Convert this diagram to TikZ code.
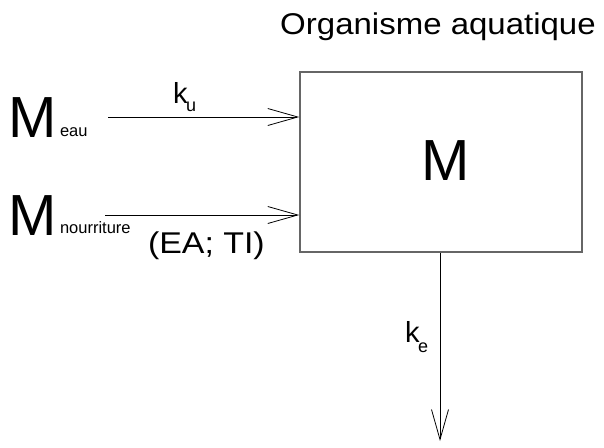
\documentclass[tikz,border=0pt]{standalone}
\usepackage{fontspec}
\usepackage{graphicx}
\setmainfont{Liberation Sans}
\usetikzlibrary{arrows.meta}
\tikzset{
  lbl/.style={inner sep=0pt, outer sep=0pt, font=\fontsize{30}{30}\selectfont},
  bigm/.style={inner sep=0pt, outer sep=0pt, anchor=base west, font=\fontsize{58}{58}\selectfont},
  subs/.style={inner sep=0pt, outer sep=0pt, anchor=base west, font=\fontsize{16.5}{16.5}\selectfont},
  kk/.style={inner sep=0pt, outer sep=0pt, anchor=base west, font=\fontsize{29}{29}\selectfont},
  ksub/.style={inner sep=0pt, outer sep=0pt, anchor=base west, font=\fontsize{18}{18}\selectfont},
  flow/.style={draw=black, line width=0.8pt, -{Straight Barb[length=30pt,width=17pt,line width=0.8pt]}},
  boxst/.style={draw=black!60, line width=1.5pt, inner sep=0pt, minimum width=282pt, minimum height=180pt}
}
\begin{document}
\begin{tikzpicture}[x=1pt,y=-1pt]
\useasboundingbox (0,0) rectangle (604,447);
\node[boxst] (box) at (441,162) {};
\node[lbl, anchor=base] (title) at (438,34) {\scalebox{1.1}[1]{Organisme aquatique}};
\node[inner sep=0pt, anchor=base, font=\fontsize{58}{58}\selectfont] (mbox) at (446,180) {M};
% inputs
\node[bigm] (m1) at (9,137) {M};
\node[subs] (eau) at (60,136) {eau};
\node[bigm] (m2) at (9,235) {M};
\node[subs] (nour) at (60,233) {nourriture};
\node[kk] (k1) at (173,103) {k};
\node[ksub] (u1) at (186,111) {u};
\node[lbl, anchor=base west] (eati) at (148,253) {\scalebox{1.13}[1]{(EA; TI)}};
\node[kk] (k2) at (405,342) {k};
\node[ksub] (e2) at (418,352) {e};
\coordinate (s1) at (108,117);
\coordinate (s2) at (105,215);
\coordinate (out) at (440,441);
\draw[flow] (s1) -- (box.west |- s1);
\draw[flow] (s2) -- (box.west |- s2);
\draw[flow] (box.south -| out) -- (out);
\end{tikzpicture}
\end{document}
